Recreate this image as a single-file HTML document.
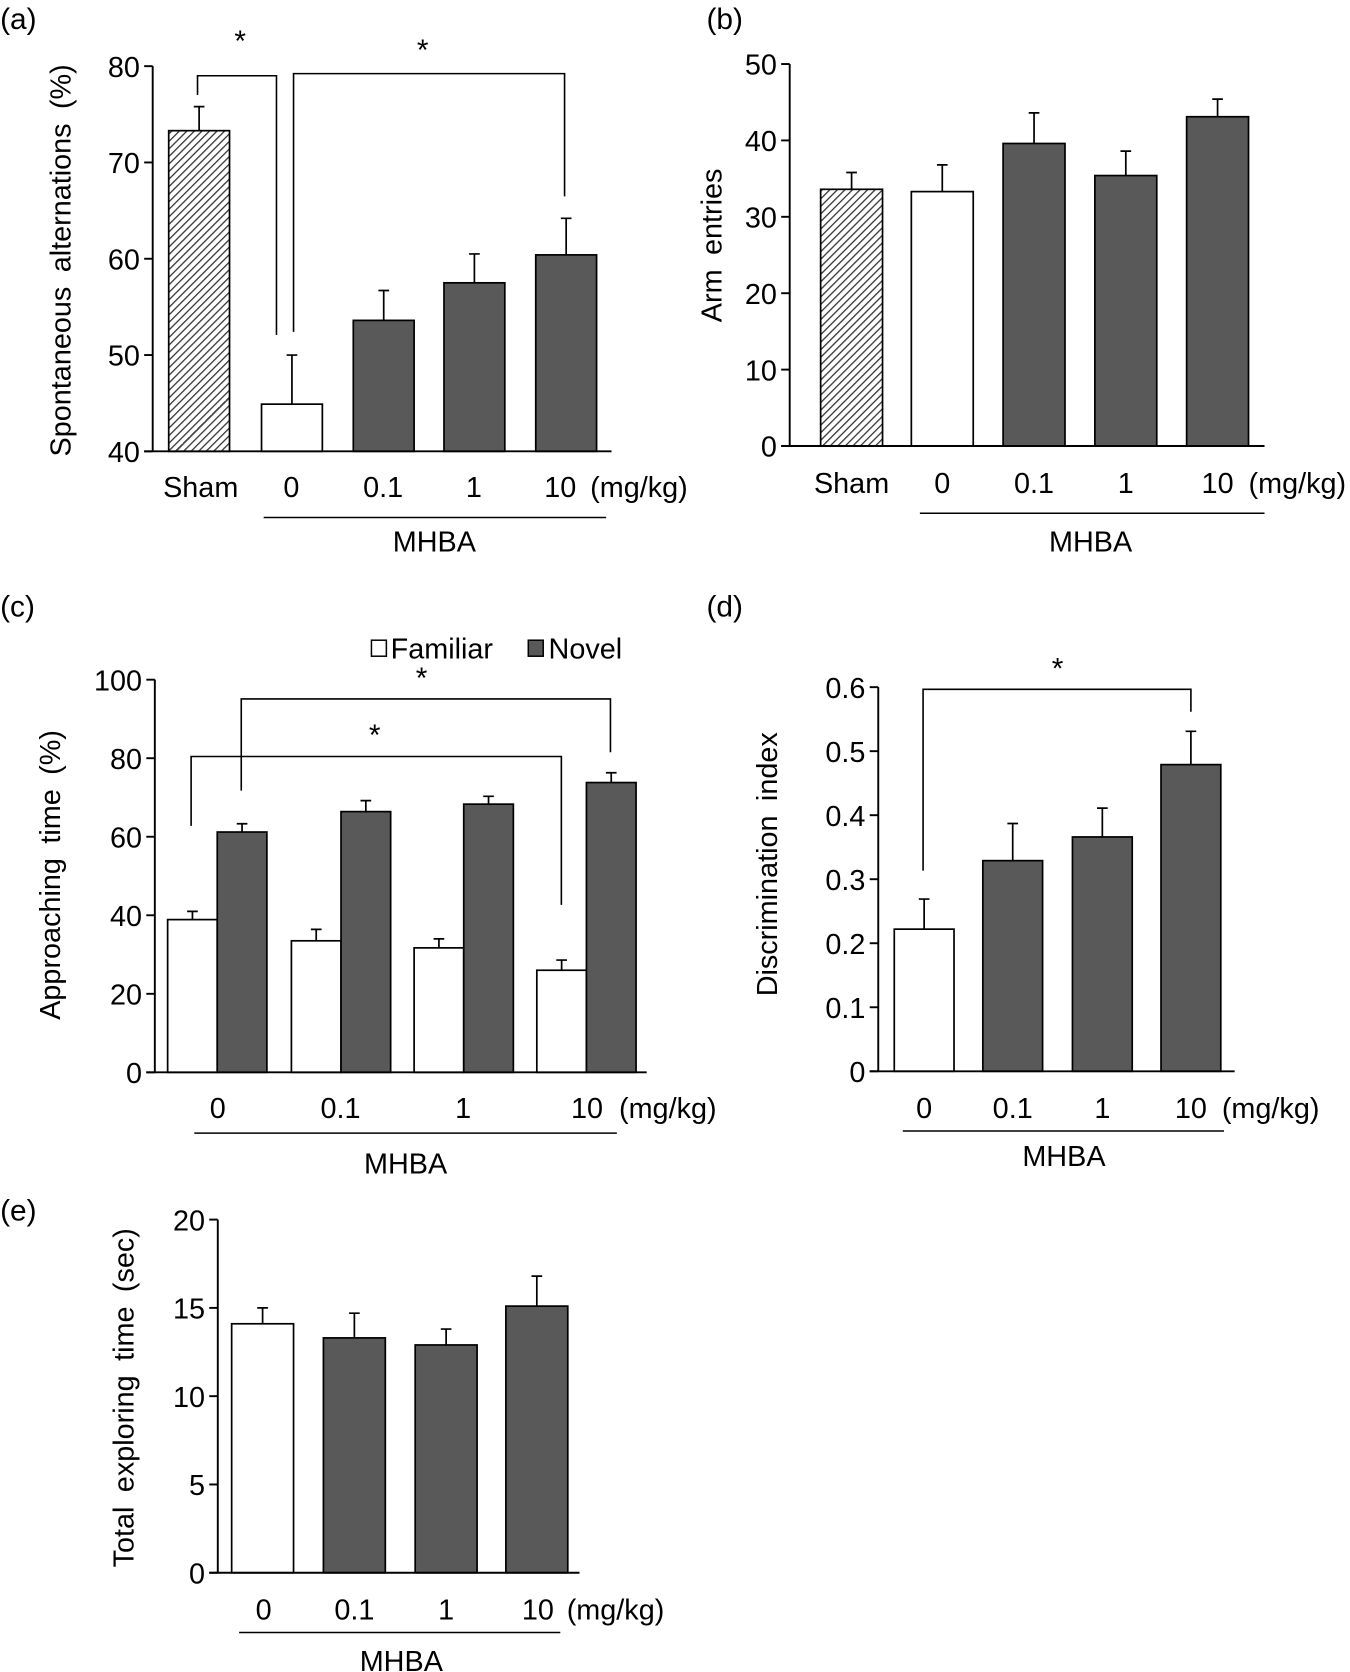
<!DOCTYPE html>
<html><head><meta charset="utf-8"><style>
html,body{margin:0;padding:0;background:#fff;}
svg{display:block;font-family:"Liberation Sans",Arial,sans-serif;}
</style></head><body>
<svg id="fig" width="1350" height="1672" viewBox="0 0 1265 1567" xmlns="http://www.w3.org/2000/svg">
<defs>
<pattern id="hatch" patternUnits="userSpaceOnUse" width="5" height="5" patternTransform="rotate(45)">
<rect width="5" height="5" fill="#fff"/><line x1="0" y1="0" x2="0" y2="5" stroke="#333" stroke-width="2.4"/>
</pattern>
</defs>
</svg>
<script>
// Panel (a)
const aCats = ["Sham","0","0.1","1","10"];
const aVals = [73.3,44.9,53.6,57.5,60.4];
const aErrs = [2.5,5.1,3.1,3.0,3.8];
const aTicks = [40,50,60,70,80];
// Panel (b)
const bCats = ["Sham","0","0.1","1","10"];
const bVals = [33.6,33.3,39.6,35.4,43.1];
const bErrs = [2.2,3.5,4.0,3.2,2.3];
const bTicks = [0,10,20,30,40,50];
// Panel (c)
const cCats = ["0","0.1","1","10"];
const cFamiliar = [38.9,33.5,31.7,26.0];
const cFamiliarErr = [2.1,2.9,2.3,2.6];
const cNovel = [61.2,66.4,68.3,73.8];
const cNovelErr = [2.1,2.8,2.0,2.5];
const cTicks = [0,20,40,60,80,100];
// Panel (d)
const dCats = ["0","0.1","1","10"];
const dVals = [0.222,0.329,0.366,0.479];
const dErrs = [0.047,0.058,0.045,0.052];
const dTicks = [0,0.1,0.2,0.3,0.4,0.5,0.6];
// Panel (e)
const eCats = ["0","0.1","1","10"];
const eVals = [14.1,13.3,12.9,15.1];
const eErrs = [0.9,1.4,0.9,1.7];
const eTicks = [0,5,10,15,20];

const NS="http://www.w3.org/2000/svg";
const svg=document.getElementById('fig');
const FS=27;
function mk(tag,attrs,parent,txt){const e=document.createElementNS(NS,tag);for(const k in attrs)e.setAttribute(k,attrs[k]);if(txt!==undefined)e.textContent=txt;(parent||svg).appendChild(e);return e;}
const DARK="#595959";

function panel(o){
  const g=mk('g',{});
  
  
  const lo=o.ticks[0],hi=o.ticks[o.ticks.length-1];
  const y=v=>o.y0+(v-lo)/(hi-lo)*(o.y1-o.y0);
  const lab=mk('text',{x:o.labX,y:o.labY,'font-size':28},g,'('+o.id+')');
  
  
  o.series.forEach((s,si)=>{
    s.vals.forEach((v,i)=>{
      const x=o.barX[i]+si*o.bw;
      const r=mk('rect',{x:x,y:y(v),width:o.bw,height:y(lo)-y(v),fill:s.fill?s.fill(i):s.color,stroke:'#000','stroke-width':1.6},g);
      
      
      const cx=x+o.bw/2, top=y(v+s.errs[i]);
      const eb=mk('path',{d:`M${cx} ${y(v)}V${top}M${cx-5} ${top}H${cx+5}`,stroke:'#000','stroke-width':1.6,fill:'none'},g);
      
      
    });
  });
  const ax=mk('path',{d:`M${o.ax} ${y(hi)}V${y(lo)}M${o.ax-8} ${y(lo)}H${o.axEnd}`,stroke:'#000','stroke-width':1.8,fill:'none'},g);
  
  
  o.ticks.forEach(t=>{
    mk('line',{x1:o.ax-8,x2:o.ax,y1:y(t),y2:y(t),stroke:'#000','stroke-width':1.8},g);
    const tl=mk('text',{x:o.ax-12,y:y(t)+10,'font-size':FS,'text-anchor':'end'},g,String(t));
    
    
  });
  const yt=mk('text',{x:0,y:0,'font-size':FS,'text-anchor':'middle',transform:`translate(${o.titleX},${o.titleY}) rotate(-90)`,'word-spacing':6},g,o.title);
  
  
  o.cats.forEach((c,i)=>{
    const xl=mk('text',{x:o.catX[i],y:o.catY,'font-size':FS,'text-anchor':'middle'},g,c);
    
    
  });
  const u=mk('text',{x:o.unitX,y:o.catY,'font-size':FS},g,'(mg/kg)');
  
  
  const ml=mk('line',{x1:o.mh[0],x2:o.mh[1],y1:o.mh[2],y2:o.mh[2],stroke:'#000','stroke-width':1.4},g);
  
  
  const mt=mk('text',{x:o.mh[3],y:o.mh[4],'font-size':FS,'text-anchor':'middle'},g,'MHBA');
  
  
  (o.brackets||[]).forEach(b=>{
    const bp=mk('path',{d:`M${b[0]} ${b[1]}V${b[2]}H${b[3]}V${b[4]}`,stroke:'#000','stroke-width':1.5,fill:'none'},g);
    
    
    const st=mk('text',{x:b[5],y:b[6],'font-size':28,'text-anchor':'middle'},g,'*');
    
    
  });
  return g;
}

const fillA=i=>i===0?'url(#hatch)':(i===1?'#fff':DARK);
panel({id:'a',labX:0,labY:27,ticks:aTicks,y0:423,y1:62,cats:aCats,
  series:[{name:'alternation',vals:aVals,errs:aErrs,fill:fillA}],
  barX:[158,245,331,416,502],bw:57,ax:143,axEnd:573,
  title:'Spontaneous alternations (%)',titleX:66,titleY:244,
  catX:[188,273,359,444,525],catY:466,unitX:553,mh:[247,568,485,407,517],
  brackets:[[185,89,71,259,314,225,48],[275,311,69,529,184,396,56]]});
panel({id:'b',labX:662,labY:27,ticks:bTicks,y0:418,y1:60,cats:bCats,
  series:[{name:'arm-entries',vals:bVals,errs:bErrs,fill:fillA}],
  barX:[769,854,940,1026,1112],bw:58,ax:740,axEnd:1185,
  title:'Arm entries',titleX:676,titleY:230,
  catX:[798,883,969,1055,1141],catY:462,unitX:1170,mh:[862,1185,481,1022,517]});
panel({id:'c',labX:0,labY:578,ticks:cTicks,y0:1005,y1:637,cats:cCats,
  series:[{name:'familiar',vals:cFamiliar,errs:cFamiliarErr,color:'#fff'},{name:'novel',vals:cNovel,errs:cNovelErr,color:DARK}],
  barX:[157,273,388,503],bw:46.5,ax:145,axEnd:606,
  title:'Approaching time (%)',titleX:56,titleY:820,
  catX:[204,319,434,550],catY:1048,unitX:580,mh:[182,578,1062,380,1100],
  brackets:[[226,741,655,572,705,395,645],[179,774,709,526,848,351,698]]});
panel({id:'d',labX:662,labY:578,ticks:dTicks,y0:1004,y1:644,cats:dCats,
  series:[{name:'discrimination',vals:dVals,errs:dErrs,fill:i=>i===0?'#fff':DARK}],
  barX:[838,921,1005,1088],bw:56,ax:823,axEnd:1157,
  title:'Discrimination index',titleX:728,titleY:810,
  catX:[866,949,1033,1116],catY:1048,unitX:1145,mh:[846,1147,1060,997,1093],
  brackets:[[865,816,646,1116,667,991,636]]});
panel({id:'e',labX:0,labY:1144,ticks:eTicks,y0:1474,y1:1143,cats:eCats,
  series:[{name:'exploring',vals:eVals,errs:eErrs,fill:i=>i===0?'#fff':DARK}],
  barX:[217,303,389,474],bw:58,ax:204,axEnd:543,
  title:'Total exploring time (sec)',titleX:125,titleY:1310,
  catX:[247,332,418,504],catY:1518,unitX:531,mh:[224,525,1530,376,1566]});

const lg=mk('g',{});


const l1=mk('rect',{x:348,y:600,width:14,height:15,fill:'#fff',stroke:'#000','stroke-width':1.4},lg);


const t1=mk('text',{x:366,y:617,'font-size':FS},lg,'Familiar');


const l2=mk('rect',{x:495,y:600,width:14,height:15,fill:DARK,stroke:'#000','stroke-width':1.4},lg);


const t2=mk('text',{x:514,y:617,'font-size':FS},lg,'Novel');


</script>
</body></html>
